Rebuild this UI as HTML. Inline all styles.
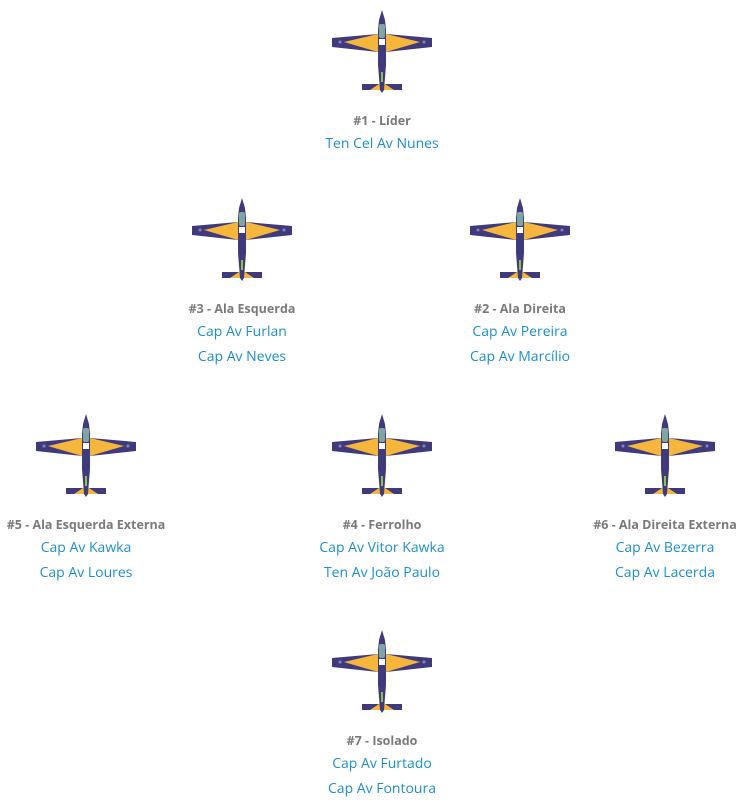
<!DOCTYPE html>
<html><head><meta charset="utf-8"><style>
body{margin:0;width:743px;height:808px;background:#fff;position:relative;overflow:hidden;font-family:"Open Sans","Liberation Sans",sans-serif}
.u{position:absolute;width:220px;margin-left:-110px;text-align:center}
.u svg{display:block;margin:0 auto}
.t{position:absolute;width:100%;font-size:12.5px;font-weight:bold;color:#7a7a7a;line-height:16px}
.n{position:absolute;width:100%;font-size:14px;color:#1a8fd1;line-height:18px}
</style></head><body>
<svg width="0" height="0" style="position:absolute"><defs>
<g id="p">
<polygon points="0,28 46,24 54,24 100,28 100,37 54,42 46,42 0,37" fill="#3f3a7c"/>
<polygon points="12,32 46,24 46,42" fill="#f6b63c"/>
<polygon points="88,32 54,24 54,42" fill="#f6b63c"/>
<polygon points="30,74 70,74 70,80 30,80" fill="#3f3a7c"/>
<polygon points="38,80 62,80 50,72" fill="#f6b63c"/>
<path d="M50,0 L53,10 L54,20 L54,55 L52,80 L50,83 L48,80 L46,55 L46,20 L47,10 Z" fill="#3f3a7c"/>
<rect x="47" y="14" width="6" height="14" rx="2" fill="#7fa6a0"/>
<rect x="47" y="29" width="6" height="6" fill="#fff"/>
<rect x="49" y="62" width="2" height="10" fill="#8bc34a"/>
<circle cx="8" cy="32" r="1.5" fill="#8a84b8"/><circle cx="92" cy="32" r="1.5" fill="#8a84b8"/>
</g></defs></svg>

<div class="u" style="left:382px;top:10px"><svg width="100" height="84"><use href="#p"/></svg>
<div class="t" style="top:103px">#1 - Líder</div><div class="n" style="top:125px">Ten Cel Av Nunes</div></div>

<div class="u" style="left:242px;top:198px"><svg width="100" height="84"><use href="#p"/></svg>
<div class="t" style="top:103px">#3 - Ala Esquerda</div><div class="n" style="top:125px">Cap Av Furlan</div><div class="n" style="top:150px">Cap Av Neves</div></div>

<div class="u" style="left:520px;top:198px"><svg width="100" height="84"><use href="#p"/></svg>
<div class="t" style="top:103px">#2 - Ala Direita</div><div class="n" style="top:125px">Cap Av Pereira</div><div class="n" style="top:150px">Cap Av Marcílio</div></div>

<div class="u" style="left:86px;top:414px"><svg width="100" height="84"><use href="#p"/></svg>
<div class="t" style="top:103px">#5 - Ala Esquerda Externa</div><div class="n" style="top:125px">Cap Av Kawka</div><div class="n" style="top:150px">Cap Av Loures</div></div>

<div class="u" style="left:382px;top:414px"><svg width="100" height="84"><use href="#p"/></svg>
<div class="t" style="top:103px">#4 - Ferrolho</div><div class="n" style="top:125px">Cap Av Vitor Kawka</div><div class="n" style="top:150px">Ten Av João Paulo</div></div>

<div class="u" style="left:665px;top:414px"><svg width="100" height="84"><use href="#p"/></svg>
<div class="t" style="top:103px">#6 - Ala Direita Externa</div><div class="n" style="top:125px">Cap Av Bezerra</div><div class="n" style="top:150px">Cap Av Lacerda</div></div>

<div class="u" style="left:382px;top:630px"><svg width="100" height="84"><use href="#p"/></svg>
<div class="t" style="top:103px">#7 - Isolado</div><div class="n" style="top:125px">Cap Av Furtado</div><div class="n" style="top:150px">Cap Av Fontoura</div></div>
</body></html>
